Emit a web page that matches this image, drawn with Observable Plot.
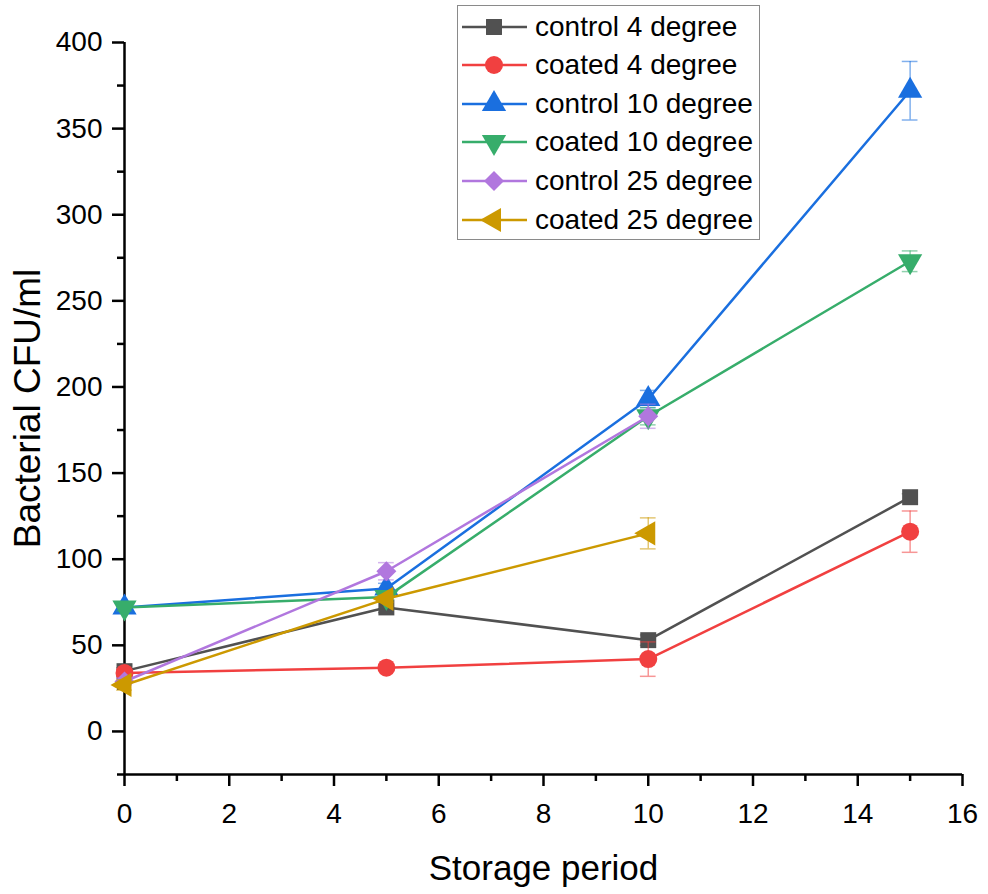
<!DOCTYPE html>
<html><head><meta charset="utf-8">
<script src="https://cdn.jsdelivr.net/npm/d3@7"></script>
<script src="https://cdn.jsdelivr.net/npm/@observablehq/plot@0.6"></script>
<style>
body{margin:0;background:#fff;font-family:"Liberation Sans",Arial,sans-serif}
#wrap{position:relative;width:988px;height:894px;background:#fff}
#legend{position:absolute;left:457px;top:5px;width:303px;height:235px;border:1.5px solid #8a8a8a;background:#fff;box-sizing:border-box}
.row{position:absolute;left:0;height:38px;display:flex;align-items:center}
.row span{font-size:28px;color:#000;margin-left:7px;white-space:nowrap}
</style></head>
<body>
<div id="wrap"><div id="chart"></div><div id="legend"></div></div>
<script>
// ---- data ----
const days = [0, 5, 10, 15];
const seriesNames = ["control 4 degree", "coated 4 degree", "control 10 degree", "coated 10 degree", "control 25 degree", "coated 25 degree"];
const control4 = [35, 72, 53, 136];
const control4Err = [2, 3, 3, 2];
const coated4 = [34, 37, 42, 116];
const coated4Err = [2, 1, 10, 12];
const control10 = [72, 83, 193, 372];
const control10Err = [2, 3, 5, 17];
const coated10 = [72, 78, 183, 273];
const coated10Err = [2, 2, 5, 6];
const control25 = [29, 93, 183];
const control25Err = [2, 5, 7];
const coated25 = [27, 77, 115];
const coated25Err = [3, 2, 9];
const colors = ["#515151", "#F14040", "#1A6FDF", "#37AD6B", "#B177DE", "#CC9900"];
const xTicks = [0, 2, 4, 6, 8, 10, 12, 14, 16];
const yTicks = [0, 50, 100, 150, 200, 250, 300, 350, 400];

// custom symbols
function mapped(type, f) {
  return {draw(ctx, size) {
    type.draw({
      moveTo: (x, y) => { const p = f(x, y); ctx.moveTo(p[0], p[1]); },
      lineTo: (x, y) => { const p = f(x, y); ctx.lineTo(p[0], p[1]); },
      closePath: () => ctx.closePath()
    }, size);
  }};
}
const triDown = mapped(d3.symbolTriangle, (x, y) => [x, -y]);
const triLeft = mapped(d3.symbolTriangle, (x, y) => [y, x]);
const symbols = [d3.symbolSquare, d3.symbolCircle, d3.symbolTriangle, triDown, d3.symbolDiamond2, triLeft];

const valueArrays = [control4, coated4, control10, coated10, control25, coated25];
const errArrays = [control4Err, coated4Err, control10Err, coated10Err, control25Err, coated25Err];

const series = seriesNames.map((name, k) => ({
  name, color: colors[k], symbol: symbols[k],
  data: valueArrays[k].map((v, i) => ({series: name, day: days[i], value: v, err: errArrays[k][i]}))
}));

const capHalf = 0.15;
const seriesMarks = series.flatMap(s => [
  Plot.ruleX(s.data, {x: "day", y1: d => d.value - d.err, y2: d => d.value + d.err, stroke: s.color, strokeOpacity: 0.55, strokeWidth: 1.5}),
  Plot.ruleY(s.data, {y: d => d.value + d.err, x1: d => d.day - capHalf, x2: d => d.day + capHalf, stroke: s.color, strokeOpacity: 0.55, strokeWidth: 1.5}),
  Plot.ruleY(s.data, {y: d => d.value - d.err, x1: d => d.day - capHalf, x2: d => d.day + capHalf, stroke: s.color, strokeOpacity: 0.55, strokeWidth: 1.5}),
  Plot.line(s.data, {x: "day", y: "value", stroke: s.color, strokeWidth: 2.5}),
  Plot.dot(s.data, {x: "day", y: "value", symbol: s.symbol, r: 9, fill: s.color, stroke: "none"})
]);

const chart = Plot.plot({
  width: 988, height: 894,
  marginLeft: 124, marginRight: 26, marginTop: 42, marginBottom: 120,
  style: {fontFamily: "'Liberation Sans', Arial, sans-serif", color: "#000", background: "#fff"},
  x: {domain: [0, 16]},
  y: {domain: [-25, 400]},
  marks: [
    Plot.axisX({ticks: xTicks, tickSize: 12, tickPadding: 17, strokeWidth: 2.5, fontSize: 28, label: null}),
    Plot.axisX({ticks: d3.range(1, 16, 2), tickSize: 7, strokeWidth: 2.5, tickFormat: () => "", label: null}),
    Plot.axisY({ticks: yTicks, tickSize: 12, tickPadding: 10, strokeWidth: 2.5, fontSize: 28, label: null}),
    Plot.axisY({ticks: d3.range(-25, 400, 50), tickSize: 7, strokeWidth: 2.5, tickFormat: () => "", label: null}),
    Plot.ruleX([0], {y1: -25, y2: 400, strokeWidth: 2.5, stroke: "#000"}),
    Plot.ruleY([-25], {x1: 0, x2: 16, strokeWidth: 2.5, stroke: "#000"}),
    ...seriesMarks,
    Plot.text(["Bacterial CFU/ml"], {text: d => d, frameAnchor: "left", textAnchor: "middle", lineAnchor: "middle", rotate: -90, dx: -96, fontSize: 37, fill: "#000"}),
    Plot.text(["Storage period"], {text: d => d, frameAnchor: "bottom", textAnchor: "middle", lineAnchor: "bottom", dy: 105, fontSize: 35, fill: "#000"})
  ]
});
document.getElementById("chart").appendChild(chart);

// legend
const legend = d3.select("#legend");
series.forEach((s, i) => {
  const row = legend.append("div").attr("class", "row").style("top", (1.5 + i * 38.6) + "px");
  const svg = row.append("svg").attr("width", 70).attr("height", 38);
  svg.append("line").attr("x1", 4).attr("x2", 69).attr("y1", 19).attr("y2", 19)
    .attr("stroke", s.color).attr("stroke-width", 2.5);
  svg.append("path").attr("transform", "translate(36,19)")
    .attr("d", d3.symbol(s.symbol, Math.PI * 81)()).attr("fill", s.color);
  row.append("span").text(s.name);
});
</script>
</body></html>
